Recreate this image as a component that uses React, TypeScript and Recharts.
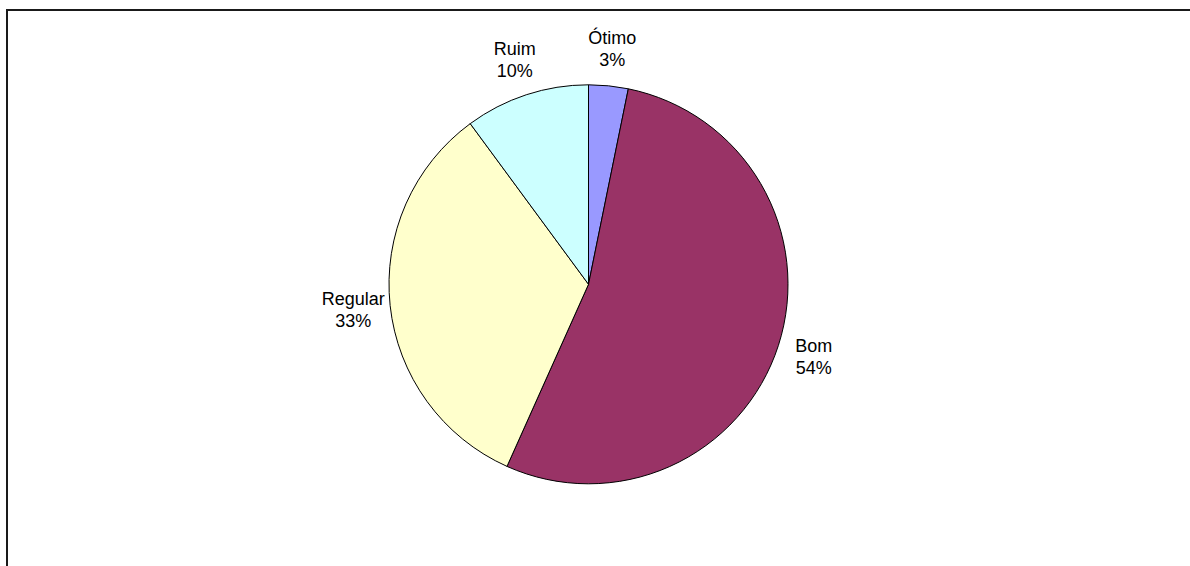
import { PieChart, Pie, Cell } from "recharts";

const categories = ["Ótimo", "Bom", "Regular", "Ruim"];
const shares = [3.2, 53.5, 33.2, 10.1];
const colors = ["#9999FF", "#993366", "#FFFFCC", "#CCFFFF"];

const data = categories.map((name, i) => ({ name, value: shares[i] }));

const RAD = Math.PI / 180;

function renderLabel(props: any) {
  const { cx, cy, midAngle, outerRadius, name, percent } = props;
  const r = outerRadius + 37;
  const x = cx + r * Math.cos(-midAngle * RAD);
  const y = cy + r * Math.sin(-midAngle * RAD);
  return (
    <text
      x={x}
      y={y}
      textAnchor="middle"
      fill="#000"
      fontSize={18}
      fontFamily="'Liberation Sans', Arial, sans-serif"
    >
      <tspan x={x} dy={-5}>
        {name}
      </tspan>
      <tspan x={x} dy={22}>
        {Math.round(percent * 100) + "%"}
      </tspan>
    </text>
  );
}

export default function App() {
  return (
    <div
      style={{
        position: "absolute",
        left: 6,
        top: 9,
        width: 1182,
        height: 555,
        borderLeft: "2px solid #1a1a1a",
        borderTop: "2px solid #1a1a1a",
        background: "#fff",
      }}
    >
      <PieChart
        width={1182}
        height={555}
        margin={{ top: 0, right: 0, bottom: 0, left: 0 }}
      >
        <Pie
          data={data}
          dataKey="value"
          nameKey="name"
          cx={580.5}
          cy={273.3}
          outerRadius={199.5}
          startAngle={90}
          endAngle={-270}
          stroke="#000"
          strokeWidth={1}
          label={renderLabel}
          labelLine={false}
          isAnimationActive={false}
        >
          {data.map((d, i) => (
            <Cell key={d.name} fill={colors[i]} />
          ))}
        </Pie>
      </PieChart>
    </div>
  );
}
